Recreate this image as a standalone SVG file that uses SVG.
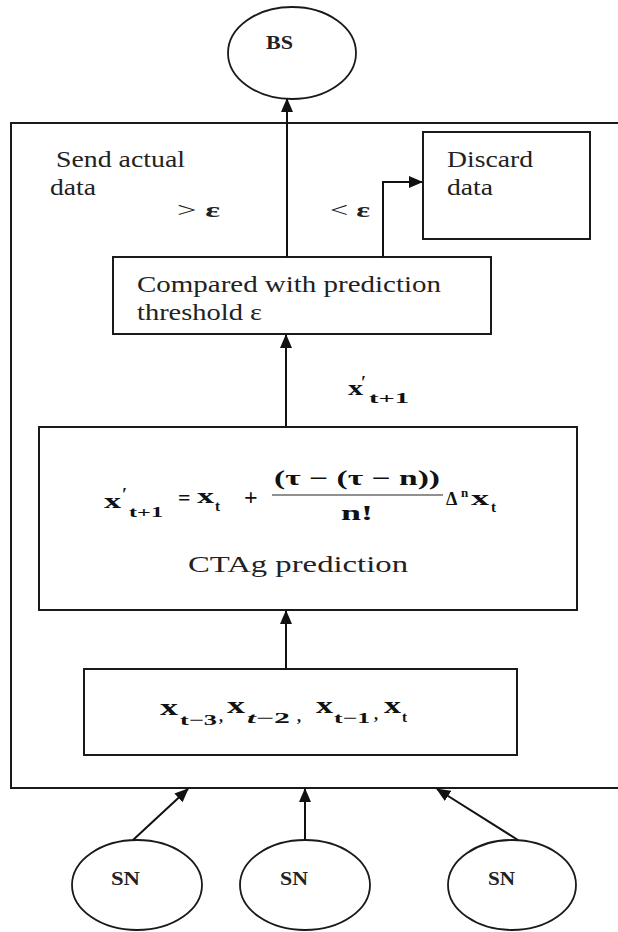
<svg xmlns="http://www.w3.org/2000/svg" width="618" height="932" viewBox="0 0 618 932">
<style>
.box{fill:none;stroke:#1a1a1a;stroke-width:2}
.ell{fill:#fff;stroke:#1a1a1a;stroke-width:1.8}
.con{fill:none;stroke:#111;stroke-width:2}
text{font-family:'Liberation Serif','Times New Roman',serif}
.t{font-size:23px;fill:#222}
.b{font-weight:bold;fill:#222}
.m{font-weight:bold;fill:#111}
</style>
<defs>
<marker id="ah" markerUnits="userSpaceOnUse" markerWidth="14" markerHeight="12" refX="13" refY="6" orient="auto">
<path d="M0,0 L14,6 L0,12 z" fill="#111"/>
</marker>
</defs>
<rect width="618" height="932" fill="#fff"/>

<g id="outer">
<path class="box" d="M618,123 H11 V788 H618"/>
<text class="t" x="56" y="167" textLength="129" lengthAdjust="spacingAndGlyphs">Send actual</text>
<text class="t" x="50" y="195" textLength="46" lengthAdjust="spacingAndGlyphs">data</text>
<text class="b" x="177" y="217" font-size="20" textLength="43" lengthAdjust="spacingAndGlyphs"><tspan font-weight="normal">&gt;</tspan> ε</text>
<text class="b" x="330" y="217" font-size="20" textLength="40" lengthAdjust="spacingAndGlyphs"><tspan font-weight="normal">&lt;</tspan> ε</text>
<text class="m" x="348" y="395" font-size="21" textLength="15" lengthAdjust="spacingAndGlyphs">x</text>
<text class="m" x="361" y="389" font-size="18">′</text>
<text class="m" x="369" y="403" font-size="15" textLength="40" lengthAdjust="spacingAndGlyphs">t+1</text>
</g>

<g id="bs">
<ellipse class="ell" cx="292" cy="53" rx="64" ry="46"/>
<text class="b" x="266" y="49" font-size="19" textLength="27" lengthAdjust="spacingAndGlyphs">BS</text>
</g>

<g id="discard">
<rect class="box" x="423" y="132" width="167" height="107"/>
<text class="t" x="447" y="167" textLength="86" lengthAdjust="spacingAndGlyphs">Discard</text>
<text class="t" x="447" y="195" textLength="46" lengthAdjust="spacingAndGlyphs">data</text>
</g>

<g id="compare">
<rect class="box" x="113" y="257" width="378" height="77"/>
<text class="t" x="137" y="292" textLength="304" lengthAdjust="spacingAndGlyphs">Compared  with prediction</text>
<text class="t" x="137" y="320" textLength="125" lengthAdjust="spacingAndGlyphs">threshold ε</text>
</g>

<g id="prediction">
<rect class="box" x="39" y="427" width="538" height="183"/>
<text class="m" x="104" y="508" font-size="22" textLength="17" lengthAdjust="spacingAndGlyphs">x</text>
<text class="m" x="122" y="501" font-size="18">′</text>
<text class="m" x="129" y="517" font-size="15" textLength="34" lengthAdjust="spacingAndGlyphs">t+1</text>
<text class="m" x="178" y="505" font-size="22" font-weight="normal">=</text>
<text class="m" x="197" y="503" font-size="22" textLength="17" lengthAdjust="spacingAndGlyphs">x</text>
<text class="m" x="215" y="511" font-size="15">t</text>
<text class="m" x="244" y="505" font-size="24" font-weight="normal">+</text>
<text class="m" x="274" y="485" font-size="21" textLength="166" lengthAdjust="spacingAndGlyphs">(τ − (τ − n))</text>
<line x1="272" y1="495" x2="443" y2="495" stroke="#222" stroke-width="1.2"/>
<text class="m" x="341" y="520" font-size="21" textLength="32" lengthAdjust="spacingAndGlyphs">n!</text>
<text class="m" x="446" y="505" font-size="18" font-weight="normal">Δ</text>
<text class="m" x="461" y="497" font-size="13">n</text>
<text class="m" x="471" y="505" font-size="22" textLength="18" lengthAdjust="spacingAndGlyphs">x</text>
<text class="m" x="491" y="512" font-size="15">t</text>
<text class="t" x="188" y="572" font-size="25" textLength="220" lengthAdjust="spacingAndGlyphs">CTAg prediction</text>
</g>

<g id="history">
<rect class="box" x="84" y="669" width="433" height="86"/>
<text class="m" x="160" y="715" font-size="23" textLength="18" lengthAdjust="spacingAndGlyphs">x</text>
<text class="m" x="180" y="725" font-size="15" textLength="37" lengthAdjust="spacingAndGlyphs">t−3</text>
<text class="m" x="219" y="722" font-size="16" font-weight="normal">,</text>
<text class="m" x="227" y="713" font-size="23" textLength="18" lengthAdjust="spacingAndGlyphs">x</text>
<text class="m" x="247" y="723" font-size="15" textLength="43" lengthAdjust="spacingAndGlyphs"><tspan font-style="italic">t</tspan>−2</text>
<text class="m" x="297" y="722" font-size="16" font-weight="normal">,</text>
<text class="m" x="316" y="713" font-size="23" textLength="17" lengthAdjust="spacingAndGlyphs">x</text>
<text class="m" x="334" y="723" font-size="15" textLength="36" lengthAdjust="spacingAndGlyphs">t−1</text>
<text class="m" x="374" y="720" font-size="16" font-weight="normal">,</text>
<text class="m" x="384" y="713" font-size="23" textLength="17" lengthAdjust="spacingAndGlyphs">x</text>
<text class="m" x="402" y="722" font-size="15">t</text>
</g>

<g id="sn1">
<ellipse class="ell" cx="137" cy="885" rx="65" ry="45"/>
<text class="b" x="111" y="885" font-size="19" textLength="29" lengthAdjust="spacingAndGlyphs">SN</text>
</g>
<g id="sn2">
<ellipse class="ell" cx="305" cy="885" rx="65" ry="45"/>
<text class="b" x="280" y="885" font-size="19" textLength="28" lengthAdjust="spacingAndGlyphs">SN</text>
</g>
<g id="sn3">
<ellipse class="ell" cx="512" cy="885" rx="64" ry="45"/>
<text class="b" x="488" y="885" font-size="19" textLength="27" lengthAdjust="spacingAndGlyphs">SN</text>
</g>

<g id="connectors">
<line class="con" x1="133" y1="840" x2="188" y2="789" marker-end="url(#ah)"/>
<line class="con" x1="305" y1="840" x2="305" y2="789" marker-end="url(#ah)"/>
<line class="con" x1="518" y1="840" x2="437" y2="789" marker-end="url(#ah)"/>
<line class="con" x1="286" y1="669" x2="286" y2="611" marker-end="url(#ah)"/>
<line class="con" x1="286" y1="426" x2="286" y2="335" marker-end="url(#ah)"/>
<line class="con" x1="287" y1="257" x2="287" y2="99" marker-end="url(#ah)"/>
<polyline class="con" points="383,257 383,182 422,182" marker-end="url(#ah)"/>
</g>
</svg>
